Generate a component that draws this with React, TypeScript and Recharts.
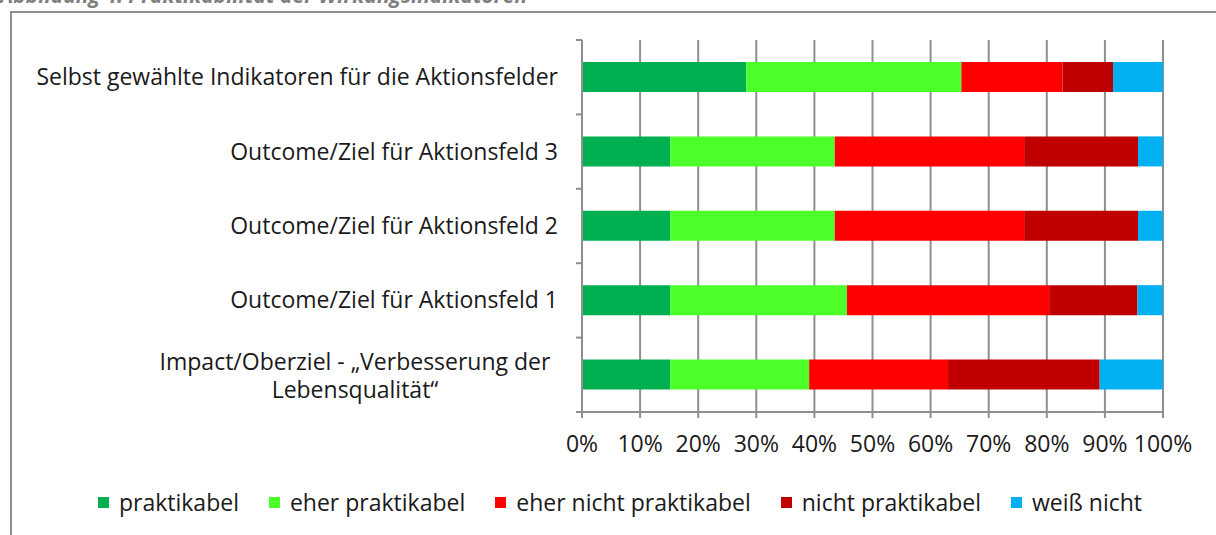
import { BarChart, Bar, XAxis, YAxis, CartesianGrid } from 'recharts';

const categories = [
  'Selbst gewählte Indikatoren für die Aktionsfelder',
  'Outcome/Ziel für Aktionsfeld 3',
  'Outcome/Ziel für Aktionsfeld 2',
  'Outcome/Ziel für Aktionsfeld 1',
  'Impact/Oberziel - „Verbesserung der\nLebensqualität“',
];

const praktikabel = [28.3, 15.2, 15.2, 15.2, 15.2];
const eherPraktikabel = [37.0, 28.3, 28.3, 30.4, 23.9];
const eherNicht = [17.4, 32.6, 32.6, 34.8, 23.9];
const nichtPraktikabel = [8.7, 19.6, 19.6, 15.2, 26.1];
const weissNicht = [8.6, 4.3, 4.3, 4.4, 10.9];

const xTicks = [0, 10, 20, 30, 40, 50, 60, 70, 80, 90, 100];

const series = [
  { key: 'p', name: 'praktikabel', color: '#00B050', values: praktikabel },
  { key: 'ep', name: 'eher praktikabel', color: '#4CFF29', values: eherPraktikabel },
  { key: 'enp', name: 'eher nicht praktikabel', color: '#FF0000', values: eherNicht },
  { key: 'np', name: 'nicht praktikabel', color: '#C00000', values: nichtPraktikabel },
  { key: 'wn', name: 'weiß nicht', color: '#00B0F0', values: weissNicht },
];

const data = categories.map((name, i) => {
  const row: Record<string, string | number> = { name };
  series.forEach((s) => {
    row[s.key] = s.values[i];
  });
  return row;
});

const FONT = '"Open Sans", "Noto Sans", sans-serif';
const TEXT = '#1a1a1a';
const AXIS = '#8F8F8F';
const PLOT_H = 372;
const BAND = PLOT_H / categories.length;

const CategoryTick = (props: any) => {
  const { x, y, payload, index } = props;
  const lines = String(payload.value).split('\n');
  const top = y - BAND / 2;
  return (
    <g>
      <line x1={x + 2} x2={x + 8} y1={top} y2={top} stroke={AXIS} strokeWidth={2} />
      {index === categories.length - 1 && (
        <line x1={x + 2} x2={x + 8} y1={y + BAND / 2} y2={y + BAND / 2} stroke={AXIS} strokeWidth={2} />
      )}
      {lines.length === 1 ? (
        <text x={x - 16} y={y} dy={8} textAnchor="end" fill={TEXT} fontSize={23} fontFamily={FONT}>
          {lines[0]}
        </text>
      ) : (
        <text x={x - 219} y={y} textAnchor="middle" fill={TEXT} fontSize={23} fontFamily={FONT}>
          {lines.map((l, i) => (
            <tspan key={i} x={x - 219} dy={i === 0 ? -5 : 28}>
              {l}
            </tspan>
          ))}
        </text>
      )}
    </g>
  );
};

export default function App() {
  return (
    <div style={{ position: 'absolute', left: 0, top: 0, width: 1216, height: 535, overflow: 'hidden', background: '#fff' }}>
      <div
        style={{
          position: 'absolute',
          left: 0,
          top: -15,
          lineHeight: '20px',
          fontFamily: FONT,
          fontWeight: 700,
          fontStyle: 'italic',
          fontSize: 21,
          color: '#7F7F7F',
          whiteSpace: 'nowrap',
        }}
      >
        Abbildung 4: Praktikabilität der Wirkungsindikatoren
      </div>
      <div
        style={{
          position: 'absolute',
          left: 10,
          top: 11,
          width: 1230,
          height: 560,
          borderLeft: '2px solid #8F8F8F',
          borderTop: '2px solid #8F8F8F',
        }}
      />
      <div style={{ position: 'absolute', left: 0, top: 0 }}>
        <BarChart
          width={1216}
          height={535}
          layout="vertical"
          data={data}
          barSize={30}
          margin={{ top: 40, right: 53, bottom: 83, left: 0 }}
        >
          <CartesianGrid horizontal={false} stroke={AXIS} strokeWidth={2} />
          <XAxis
            type="number"
            domain={[0, 100]}
            ticks={xTicks}
            interval={0}
            tickFormatter={(v) => `${v}%`}
            stroke={AXIS}
            strokeWidth={2}
            tickSize={6}
            height={40}
            tick={{ fill: TEXT, fontSize: 23, fontFamily: FONT, dy: 16 }}
          />
          <YAxis
            type="category"
            dataKey="name"
            width={582}
            stroke={AXIS}
            strokeWidth={2}
            tickLine={false}
            tick={<CategoryTick />}
            interval={0}
          />
          {series.map((s) => (
            <Bar key={s.key} dataKey={s.key} name={s.name} stackId="a" fill={s.color} isAnimationActive={false} />
          ))}
        </BarChart>
      </div>
      <div
        style={{
          position: 'absolute',
          left: 0,
          width: 1216,
          top: 487,
          display: 'flex',
          justifyContent: 'center',
          paddingLeft: 24,
          boxSizing: 'border-box',
          fontFamily: FONT,
          fontSize: 23,
          lineHeight: '30px',
          color: TEXT,
          gap: 30,
        }}
      >
        {series.map((s) => (
          <div key={s.key} style={{ display: 'flex', alignItems: 'center' }}>
            <span style={{ display: 'inline-block', width: 11, height: 11, background: s.color, marginRight: 10 }} />
            {s.name}
          </div>
        ))}
      </div>
    </div>
  );
}
